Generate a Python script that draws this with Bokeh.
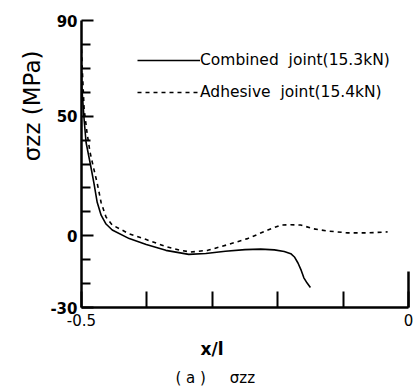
from bokeh.plotting import figure
from bokeh.models import Range1d, FixedTicker, LinearAxis, Legend, LegendItem, Title
from bokeh.embed import file_html
from bokeh.resources import INLINE

# ---- data ----
comb_x = [-0.5, -0.4995, -0.496, -0.493, -0.4865, -0.481, -0.476, -0.470, -0.4625, -0.453,
          -0.427, -0.401, -0.371, -0.336, -0.31, -0.28, -0.25, -0.226, -0.205, -0.19,
          -0.18, -0.174, -0.169, -0.164, -0.160, -0.155, -0.150]
comb_y = [69, 62, 48.6, 39, 30, 22, 14, 8.6, 4.9, 2.4,
          -1.2, -3.7, -6.1, -7.8, -7.4, -6.5, -5.8, -5.6, -5.9, -6.6,
          -7.5, -9, -11.4, -14.5, -17.6, -19.8, -21.6]

adh_x = [-0.5, -0.4985, -0.496, -0.4915, -0.487, -0.4825, -0.476, -0.470, -0.4625, -0.453,
         -0.427, -0.401, -0.371, -0.35, -0.333, -0.307, -0.276, -0.246, -0.215, -0.195,
         -0.18, -0.165, -0.145, -0.124, -0.093, -0.063, -0.032]
adh_y = [78, 68, 53, 43, 35, 29.5, 22, 13.9, 7.8, 4.5,
         0.8, -1.6, -4.5, -6, -6.8, -6.1, -3.7, -1.2, 2.4, 4.5,
         4.6, 4.5, 2.9, 2.0, 1.2, 1.2, 1.6]

y_major = [-30, 0, 50, 90]
y_labels = {-30: "-30", 0: "0", 50: "50", 90: "90"}
y_minor = [-20, -10, 10, 20, 30, 40, 60, 70, 80]
x_ticks = [-0.5, -0.4, -0.3, -0.2, -0.1, 0.0]
x_labels = {-0.5: "-0.5", -0.4: "", -0.3: "", -0.2: "", -0.1: "", 0.0: "0"}
legend_names = ["Combined  joint(15.3kN)", "Adhesive  joint(15.4kN)"]

FONT = "DejaVu Sans"
W, H = 418, 390

p = figure(width=W, height=H, output_backend="svg", toolbar_location=None,
           x_range=Range1d(-0.5, 0.0), y_range=Range1d(-30, 90),
           min_border_left=81, min_border_right=10, min_border_top=20, min_border_bottom=83,
           x_axis_location=None, y_axis_location=None)
p.outline_line_color = None
p.grid.visible = False
p.background_fill_color = "white"

# left axis
ya = LinearAxis(ticker=FixedTicker(ticks=y_major, minor_ticks=y_minor))
ya.major_label_overrides = y_labels
ya.axis_line_width = 2.5
ya.major_tick_in = 12
ya.major_tick_out = 0
ya.minor_tick_in = 9
ya.minor_tick_out = 0
ya.major_tick_line_width = 2
ya.minor_tick_line_width = 2
ya.major_label_standoff = 4
ya.major_label_text_font = FONT
ya.major_label_text_font_size = "15px"
ya.major_label_text_font_style = "bold"
ya.major_label_text_color = "black"
p.add_layout(ya, "left")

# bottom axis
xa = LinearAxis(ticker=FixedTicker(ticks=x_ticks, minor_ticks=[]))
xa.major_label_overrides = x_labels
xa.axis_line_width = 2.5
xa.major_tick_in = 16
xa.major_tick_out = 0
xa.major_tick_line_width = 2
xa.major_label_standoff = 6
xa.major_label_text_font = FONT
xa.major_label_text_font_size = "15px"
xa.major_label_text_color = "black"
p.add_layout(xa, "below")

# partial right border
ra = LinearAxis(bounds=(-30, -15), ticker=FixedTicker(ticks=[]))
ra.axis_line_width = 2.5
ra.major_label_text_font_size = "0px"
ra.major_tick_in = 0
ra.major_tick_out = 0
p.add_layout(ra, "right")

r1 = p.line(comb_x, comb_y, line_color="black", line_width=1.6)
r2 = p.line(adh_x, adh_y, line_color="black", line_width=1.6, line_dash="4 4")

leg = Legend(items=[LegendItem(label=legend_names[0], renderers=[r1]),
                    LegendItem(label=legend_names[1], renderers=[r2])],
             location=(56, 205), glyph_width=63, glyph_height=20, spacing=12,
             label_standoff=0, padding=0, margin=0,
             border_line_color=None, background_fill_alpha=0,
             label_text_font=FONT, label_text_font_size="15.5px",
             label_text_color="black")
p.add_layout(leg, "center")

# axis titles and caption as side-panel titles
ytitle = Title(text="σzz (MPa)", align="right", offset=30, standoff=6,
               text_font=FONT, text_font_size="23px", text_font_style="normal",
               text_color="black")
p.add_layout(ytitle, "left")

xtitle = Title(text="x/l", align="left", offset=119, standoff=16,
               text_font=FONT, text_font_size="17px", text_font_style="bold",
               text_color="black")
p.add_layout(xtitle, "below")

caption = Title(text="( a )\u00a0\u00a0\u00a0\u00a0\u00a0σzz", align="left", offset=94, standoff=0,
                text_font=FONT, text_font_size="15px", text_font_style="normal",
                text_color="black")
p.add_layout(caption, "below")

open("out.html", "w").write(file_html(p, INLINE))
